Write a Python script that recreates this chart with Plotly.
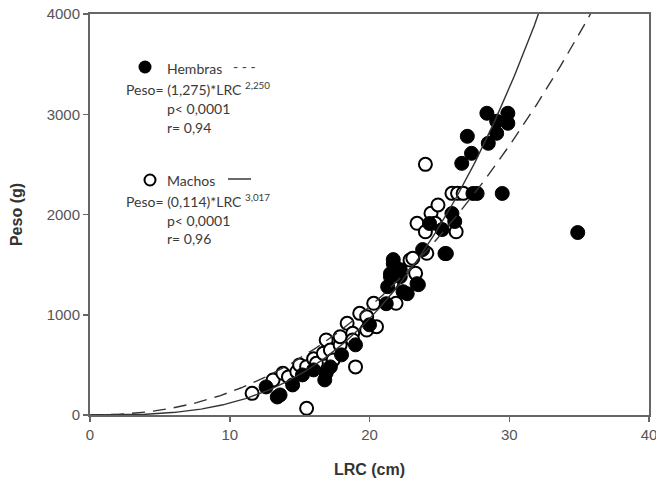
import numpy as np
import plotly.graph_objects as go

# ---------------- data ----------------
hembras_lrc = [12.6, 13.4, 13.6, 14.5, 15.2, 16.0, 16.8, 16.9, 17.2, 18.0, 19.0, 20.0,
               21.2, 21.3, 21.5, 21.5, 21.7, 21.7, 22.2, 22.2, 22.4, 22.7, 23.4, 23.5,
               23.8, 24.3, 25.2, 25.4, 25.5, 25.9, 26.1, 27.4, 27.7, 29.5, 26.6, 27.3,
               27.0, 28.5, 29.1, 29.1, 28.4, 29.9, 29.9, 34.9]
hembras_peso = [280, 180, 200, 300, 400, 450, 350, 420, 480, 600, 700, 900,
                1110, 1280, 1380, 1410, 1510, 1550, 1380, 1450, 1230, 1210, 1310, 1300,
                1650, 1910, 1850, 1610, 1610, 2010, 1930, 2210, 2210, 2210, 2510, 2610,
                2780, 2710, 2810, 2930, 3010, 3010, 2910, 1820]

machos_lrc = [11.6, 13.1, 13.8, 14.2, 14.8, 15.0, 15.5, 15.5, 16.0, 16.2, 16.7, 16.9,
              17.2, 17.4, 17.9, 17.9, 18.4, 18.8, 18.8, 19.0, 19.3, 19.8, 19.8, 20.3,
              20.5, 21.6, 21.9, 22.9, 23.1, 23.3, 23.4, 24.0, 24.1, 24.4, 24.7, 24.9,
              25.9, 26.2, 26.3, 26.7, 24.0]
machos_peso = [216, 349, 416, 380, 432, 500, 482, 67, 560, 516, 615, 748,
               648, 549, 698, 781, 915, 815, 748, 480, 1014, 981, 848, 1114,
               881, 1314, 1114, 1546, 1563, 1413, 1912, 1828, 1613, 2012, 1912, 2095,
               2211, 1828, 2211, 2211, 2500]

# fitted curves (Peso = a * LRC^b)
hembras_a, hembras_b = 1.275, 2.250
machos_a, machos_b = 0.114, 3.017

x_ticks = [0, 10, 20, 30, 40]
y_ticks = [0, 1000, 2000, 3000, 4000]

# ---------------- figure ----------------
W, H = 656, 484
L, R, T, B = 90, 649, 14, 415  # plot area in pixels


def px(xp):
    return (xp - L) / (R - L)


def py(yp):
    return (B - yp) / (B - T)


xc = np.linspace(0.01, 40, 400)
fig = go.Figure()

fig.add_trace(go.Scatter(x=machos_lrc, y=machos_peso, mode="markers",
                         marker=dict(size=13, color="white",
                                     line=dict(color="black", width=2)),
                         hoverinfo="skip"))
fig.add_trace(go.Scatter(x=hembras_lrc, y=hembras_peso, mode="markers",
                         marker=dict(size=14, color="black",
                                     line=dict(color="black", width=1)),
                         hoverinfo="skip"))
fig.add_trace(go.Scatter(x=xc, y=machos_a * xc ** machos_b, mode="lines",
                         line=dict(color="#333333", width=1.4), hoverinfo="skip"))
fig.add_trace(go.Scatter(x=xc, y=hembras_a * xc ** hembras_b, mode="lines",
                         line=dict(color="#333333", width=1.4, dash="13px,8px"),
                         hoverinfo="skip"))

# legend keys (inside the plot, as in the original)
fig.add_trace(go.Scatter(x=[px(145) * 40], y=[py(67) * 4000],
                         mode="markers", marker=dict(size=13, color="black"),
                         hoverinfo="skip", cliponaxis=False))
fig.add_trace(go.Scatter(x=[px(150) * 40], y=[py(180) * 4000],
                         mode="markers",
                         marker=dict(size=11, color="white", line=dict(color="black", width=2)),
                         hoverinfo="skip", cliponaxis=False))

txt_font = dict(family="Lato, Open Sans, sans-serif", size=14, color="#3a3a3a")
lines = [
    ("Hembras", 167, 68),
    ("- - -", 233, 66),
    ("Peso= (1,275)*LRC <sup>2,250</sup>", 126, 88),
    ("p< 0,0001", 167, 108),
    ("r= 0,94", 167, 127),
    ("Machos", 167, 180),
    ("p< 0,0001", 167, 220),
    ("Peso= (0,114)*LRC <sup>3,017</sup>", 126, 200),
    ("r= 0,96", 167, 238),
]
for text, xl, yc in lines:
    fig.add_annotation(x=px(xl), y=py(yc), xref="paper", yref="paper", text=text,
                       showarrow=False, xanchor="left", yanchor="middle",
                       font=txt_font, xshift=-2)

# solid legend line for Machos
fig.add_shape(type="line", xref="paper", yref="paper",
              x0=px(228), x1=px(251), y0=py(179), y1=py(179),
              line=dict(color="#3a3a3a", width=1.5))

axis_common = dict(showgrid=False, zeroline=False, showline=True, mirror=True,
                   linecolor="#666666", linewidth=2, ticks="outside", ticklen=5,
                   tickwidth=1.5, tickcolor="#666666", automargin=False,
                   ticklabeloverflow="allow",
                   tickfont=dict(family="Liberation Sans, Arial, sans-serif", size=15,
                                 color="#555555"))

fig.update_layout(
    width=W, height=H,
    margin=dict(l=L, r=W - R, t=T, b=H - B, autoexpand=False),
    paper_bgcolor="white", plot_bgcolor="white",
    showlegend=False,
    xaxis=dict(range=[0, 40], tickvals=x_ticks, ticktext=[str(v) for v in x_ticks],
               title=dict(text="<b>LRC (cm)</b>", standoff=22,
                          font=dict(family="Liberation Sans, Arial, sans-serif", size=16,
                                    color="#333333")),
               **axis_common),
    yaxis=dict(range=[0, 4000], tickvals=y_ticks, ticktext=[str(v) for v in y_ticks],
               title=dict(text="<b>Peso (g)</b>", standoff=20,
                          font=dict(family="Liberation Sans, Arial, sans-serif", size=16,
                                    color="#333333")),
               **axis_common),
)

fig.write_html("out.html",
               config={"displayModeBar": False, "staticPlot": True},
               post_script="document.body.style.margin='0';"
                           "document.body.style.overflow='hidden';")
